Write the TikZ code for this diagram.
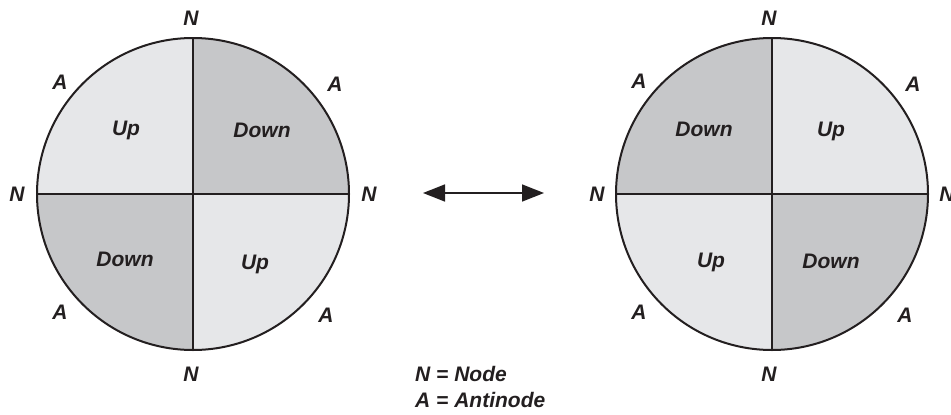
\documentclass[tikz,border=0pt]{standalone}
\usepackage{fontspec}
\setmainfont{Liberation Sans}
\usetikzlibrary{arrows.meta,calc}
\definecolor{lightq}{HTML}{E6E7E9}
\definecolor{darkq}{HTML}{C6C7C9}
\definecolor{inkc}{HTML}{231F20}
\begin{document}
\begin{tikzpicture}[x=1pt,y=1pt,
  lbl/.style={font=\fontsize{21}{24}\selectfont\bfseries\itshape, text=inkc, inner sep=0pt},
  edge/.style={draw=inkc, line width=2pt}]
\useasboundingbox (0,0) rectangle (951,-415);
% left circle
\coordinate (L) at (193,-194);
\fill[lightq] (L) -- ++(-156,0) arc (180:90:156) -- cycle;
\fill[darkq] (L) -- ++(156,0) arc (0:90:156) -- cycle;
\fill[darkq] (L) -- ++(-156,0) arc (180:270:156) -- cycle;
\fill[lightq] (L) -- ++(156,0) arc (0:-90:156) -- cycle;
\draw[edge] (L) circle (156);
\draw[edge] ($(L)+(-156,0)$) -- ($(L)+(156,0)$);
\draw[edge] ($(L)+(0,156)$) -- ($(L)+(0,-156)$);
% right circle
\coordinate (R) at (772,-194);
\fill[darkq] (R) -- ++(-156,0) arc (180:90:156) -- cycle;
\fill[lightq] (R) -- ++(156,0) arc (0:90:156) -- cycle;
\fill[lightq] (R) -- ++(-156,0) arc (180:270:156) -- cycle;
\fill[darkq] (R) -- ++(156,0) arc (0:-90:156) -- cycle;
\draw[edge] (R) circle (156);
\draw[edge] ($(R)+(-156,0)$) -- ($(R)+(156,0)$);
\draw[edge] ($(R)+(0,156)$) -- ($(R)+(0,-156)$);
% left labels
\node[lbl] (ln1) at (191,-18) {N};
\node[lbl] (ln2) at (191,-374) {N};
\node[lbl] (ln3) at (17,-194) {N};
\node[lbl] (ln4) at (369,-194) {N};
\node[lbl] (la1) at (60,-82) {A};
\node[lbl] (la2) at (335,-84) {A};
\node[lbl] (la3) at (60,-312) {A};
\node[lbl] (la4) at (326,-315) {A};
\node[lbl] (lq1) at (126,-130) {Up};
\node[lbl] (lq2) at (262,-130) {Down};
\node[lbl] (lq3) at (125,-259) {Down};
\node[lbl] (lq4) at (255,-264) {Up};
% right labels
\node[lbl] (rn1) at (769,-18) {N};
\node[lbl] (rn2) at (769,-374) {N};
\node[lbl] (rn3) at (597,-194) {N};
\node[lbl] (rn4) at (947,-194) {N};
\node[lbl] (ra1) at (639,-81) {A};
\node[lbl] (ra2) at (913,-84) {A};
\node[lbl] (ra3) at (639,-312) {A};
\node[lbl] (ra4) at (905,-315) {A};
\node[lbl] (rq1) at (704,-129) {Down};
\node[lbl] (rq2) at (831,-131) {Up};
\node[lbl] (rq3) at (711,-262) {Up};
\node[lbl] (rq4) at (831,-261) {Down};
% arrow
\coordinate (aw) at (423,-193);
\coordinate (ae) at (544,-193);
\draw[draw=inkc, line width=1.5pt, {Triangle[length=22pt,width=17pt]}-{Triangle[length=22pt,width=17pt]}] (aw) -- (ae);
% legend
\node[lbl, anchor=west] (leg1) at (415,-374) {N = Node};
\node[lbl, anchor=west] (leg2) at (415,-400) {A = Antinode};
\end{tikzpicture}
\end{document}
